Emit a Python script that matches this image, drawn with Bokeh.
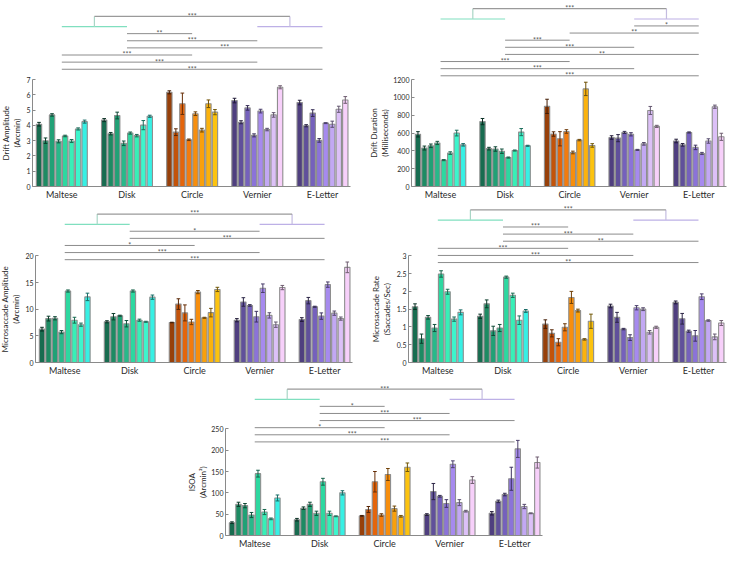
import math
from bokeh.plotting import figure
from bokeh.layouts import column, row, Spacer
from bokeh.models import FixedTicker, Range1d, ColumnDataSource
from bokeh.embed import file_html
from bokeh.resources import INLINE
from bokeh.core.properties import value

# ---------------- data ----------------
stimuli = ["Maltese", "Disk", "Circle", "Vernier", "E-Letter"]

drift_amp = [
    [4.08, 3.00, 4.69, 2.96, 3.31, 2.98, 3.77, 4.25],
    [4.35, 3.46, 4.65, 2.83, 3.50, 3.33, 4.02, 4.60],
    [6.17, 3.56, 5.42, 3.06, 4.77, 3.69, 5.42, 4.87],
    [5.63, 4.21, 5.15, 3.35, 4.94, 3.73, 4.69, 6.50],
    [5.50, 3.98, 4.81, 3.02, 4.15, 4.08, 5.06, 5.67]]
drift_amp_err = [
    [0.12, 0.18, 0.08, 0.10, 0.05, 0.10, 0.07, 0.10],
    [0.10, 0.08, 0.22, 0.15, 0.07, 0.08, 0.30, 0.07],
    [0.10, 0.22, 0.70, 0.05, 0.12, 0.12, 0.25, 0.17],
    [0.15, 0.10, 0.15, 0.10, 0.12, 0.08, 0.15, 0.10],
    [0.15, 0.07, 0.22, 0.12, 0.03, 0.20, 0.20, 0.22]]

drift_dur = [
    [586, 432, 457, 489, 296, 375, 600, 468],
    [729, 425, 421, 396, 325, 404, 611, 457],
    [900, 589, 536, 618, 382, 521, 1096, 461],
    [550, 543, 607, 586, 411, 479, 854, 675],
    [511, 468, 607, 439, 371, 511, 896, 558]]
drift_dur_err = [
    [30, 22, 20, 18, 6, 15, 32, 14],
    [35, 15, 25, 25, 6, 6, 40, 6],
    [80, 25, 80, 20, 15, 8, 75, 20],
    [20, 40, 12, 18, 6, 15, 45, 12],
    [20, 15, 6, 25, 12, 25, 18, 40]]

ms_amp = [
    [6.25, 8.23, 8.29, 5.70, 13.40, 7.93, 7.09, 12.30],
    [7.63, 8.59, 8.77, 7.27, 13.40, 7.93, 7.63, 12.25],
    [7.50, 10.95, 9.30, 7.60, 13.20, 8.38, 9.35, 13.70],
    [7.93, 11.35, 10.70, 8.59, 13.93, 8.83, 7.09, 14.05],
    [8.05, 11.60, 10.45, 8.70, 14.60, 9.25, 8.23, 17.84]]
ms_amp_err = [
    [0.35, 0.45, 0.30, 0.30, 0.20, 0.55, 0.30, 0.70],
    [0.20, 0.60, 0.10, 0.60, 0.20, 0.20, 0.10, 0.40],
    [0.05, 1.00, 1.50, 0.50, 0.30, 0.10, 0.80, 0.40],
    [0.30, 0.80, 0.15, 1.00, 0.80, 0.50, 0.50, 0.40],
    [0.35, 0.60, 0.10, 0.60, 0.50, 0.40, 0.30, 1.00]]

ms_rate = [
    [1.57, 0.67, 1.27, 0.97, 2.49, 1.99, 1.22, 1.41],
    [1.30, 1.65, 0.89, 0.97, 2.40, 1.89, 1.19, 1.45],
    [1.08, 0.82, 0.57, 0.99, 1.83, 1.46, 0.65, 1.16],
    [1.59, 1.27, 0.94, 0.70, 1.54, 1.50, 0.85, 0.99],
    [1.69, 1.23, 0.88, 0.75, 1.85, 1.18, 0.72, 1.11]]
ms_rate_err = [
    [0.08, 0.13, 0.05, 0.10, 0.09, 0.07, 0.06, 0.07],
    [0.06, 0.11, 0.13, 0.10, 0.03, 0.06, 0.12, 0.04],
    [0.12, 0.10, 0.10, 0.10, 0.17, 0.04, 0.02, 0.20],
    [0.05, 0.14, 0.02, 0.08, 0.06, 0.04, 0.05, 0.03],
    [0.04, 0.15, 0.03, 0.15, 0.08, 0.02, 0.08, 0.07]]

isoa = [
    [30, 73, 70, 48, 145, 55, 39, 88],
    [37, 64, 73, 52, 126, 52, 45, 100],
    [46, 61, 126, 48, 143, 63, 45, 160],
    [49, 103, 92, 75, 167, 77, 57, 130],
    [52, 80, 96, 133, 203, 68, 52, 171]]
isoa_err = [
    [2, 5, 5, 6, 8, 6, 2, 7],
    [3, 3, 5, 5, 8, 5, 1, 5],
    [1, 7, 24, 3, 14, 6, 2, 10],
    [2, 19, 2, 9, 8, 7, 2, 8],
    [4, 3, 3, 27, 20, 5, 1, 13]]

# significance comparisons (listed top to bottom): (stimulus a, stimulus b, stars)
top_star = "***"
comps_drift_amp = [(1, 2, "**"), (1, 3, "***"), (1, 4, "***"),
                   (0, 2, "***"), (0, 3, "***"), (0, 4, "***")]
comps_drift_dur = [(3, 4, "*"), (2, 4, "**"), (1, 2, "***"), (1, 3, "***"),
                   (1, 4, "**"), (0, 2, "***"), (0, 3, "***"), (0, 4, "***")]
comps_ms_amp = [(1, 3, "*"), (1, 4, "***"), (0, 2, "*"), (0, 3, "***"), (0, 4, "***")]
comps_ms_rate = [(1, 2, "***"), (1, 3, "***"), (1, 4, "**"),
                 (0, 2, "***"), (0, 3, "***"), (0, 4, "**")]
comps_isoa = [(1, 2, "*"), (1, 3, "***"), (1, 4, "***"),
              (0, 2, "*"), (0, 3, "***"), (0, 4, "***")]

# ---------------- styling ----------------
green = ["#186c50", "#1d8b63", "#21a176", "#28b98a", "#2dd8a0", "#38efb7", "#3df5cc", "#37f0e4"]
orange = ["#97400a", "#c3530a", "#e4650c", "#f27b0f", "#f78e0d", "#f9a00c", "#fbb20d", "#fcc30f"]
purple = ["#4f3f7f", "#60509b", "#7561bc", "#8b73d8", "#a68aee", "#c2a8f3", "#dcc0f7", "#f7d0fa"]
group_palettes = [green, green, orange, purple, purple]

FONT = "Lato"
TXT = "#2a2a2a"
AXC = "#8a8a8a"
A_PX = 108.0      # pixel height of the value axis
X0, X1 = -0.5, 48.3


def darken(hexc, f=0.5):
    r, g, b = int(hexc[1:3], 16), int(hexc[3:5], 16), int(hexc[5:7], 16)
    return "#%02x%02x%02x" % (int(r * f), int(g * f), int(b * f))


def make_panel(vals, errs, ymax, ystep, ylabel, comps, low_off,
               W, H, LW, label_x, L, R, B, tick_labels=None):
    frame_h = H - B
    u = ymax / A_PX  # data units per pixel
    yr = Range1d(0, frame_h * u)

    # ---- y label strip (its own small figure, frame aligned with the chart) ----
    lab = figure(width=LW, height=H, output_backend="svg", toolbar_location=None,
                 x_range=Range1d(0, LW), y_range=yr,
                 x_axis_location=None, y_axis_location=None,
                 min_border_left=0, min_border_right=0, min_border_top=0,
                 min_border_bottom=B)
    lab.outline_line_color = None
    lab.grid.visible = False
    lab.text(x=[label_x], y=[ymax / 2], text=[ylabel], angle=math.pi / 2,
             text_align="center", text_baseline="middle", text_line_height=1.15,
             text_font=value(FONT), text_font_size="8px", text_color=TXT)

    # ---- bar chart ----
    p = figure(width=W - LW, height=H, output_backend="svg", toolbar_location=None,
               x_range=Range1d(X0, X1), y_range=yr,
               min_border_left=L - LW, min_border_right=R, min_border_top=0,
               min_border_bottom=B)
    p.outline_line_color = None
    p.grid.visible = False

    xs, tops, fills, ecs, lows, ups = [], [], [], [], [], []
    for g in range(5):
        for i in range(8):
            x = g * 10 + i + 0.5
            xs.append(x)
            tops.append(vals[g][i])
            fills.append(group_palettes[g][i])
            ecs.append(darken(group_palettes[g][i], 0.45))
            lows.append(vals[g][i] - errs[g][i])
            ups.append(vals[g][i] + errs[g][i])
    src = ColumnDataSource(dict(x=xs, top=tops, fill=fills, ec=ecs, lo=lows, up=ups,
                                xl=[x - 0.28 for x in xs], xr=[x + 0.28 for x in xs]))
    p.vbar(x="x", top="top", width=0.82, bottom=0, fill_color="fill",
           line_color="#8e8e8e", line_width=1.1, source=src)
    p.segment(x0="x", y0="lo", x1="x", y1="up", line_color="ec", line_width=1, source=src)
    p.segment(x0="xl", y0="up", x1="xr", y1="up", line_color="ec", line_width=1, source=src)
    p.segment(x0="xl", y0="lo", x1="xr", y1="lo", line_color="ec", line_width=1, source=src)

    # brackets
    centers = [g * 10 + 4 for g in range(5)]
    n = len(comps)
    step = 7.2
    for k, (a, b, s) in enumerate(comps):
        ypx = A_PX + low_off + (n - 1 - k) * step
        y = ypx * u
        p.line([centers[a], centers[b]], [y, y], line_color="#8c8c8c", line_width=1)
        p.text(x=[(centers[a] + centers[b]) / 2], y=[y + 0.6 * u], text=[s],
               text_font=value(FONT), text_font_size="7px", text_color="#555555",
               text_align="center", text_baseline="alphabetic")
    gp = A_PX + low_off + (n - 1) * step + 7.0
    tp = gp + 10.4
    yg, yt = gp * u, tp * u
    mid_l = (centers[0] + centers[1]) / 2
    mid_r = (centers[3] + centers[4]) / 2
    p.line([centers[0], centers[1]], [yg, yg], line_color="#80dfbf", line_width=1.2)
    p.line([centers[3], centers[4]], [yg, yg], line_color="#bdb0e6", line_width=1.2)
    p.line([mid_l, mid_l], [yg, yt], line_color="#a9d6c6", line_width=1.2)
    p.line([mid_r, mid_r], [yg, yt], line_color="#c4bce0", line_width=1.2)
    p.line([mid_l, mid_r], [yt, yt], line_color="#9a9a9a", line_width=1.2)
    p.text(x=[(mid_l + mid_r) / 2], y=[yt + 0.6 * u], text=[top_star],
           text_font=value(FONT), text_font_size="7px", text_color="#555555",
           text_align="center", text_baseline="alphabetic")

    # axes
    ticks = []
    t = 0.0
    while t <= ymax + 1e-9:
        ticks.append(round(t, 6))
        t += ystep
    yax = p.yaxis[0]
    yax.ticker = FixedTicker(ticks=ticks)
    yax.bounds = (0, ymax)
    if tick_labels:
        yax.major_label_overrides = {tk: lab_ for tk, lab_ in zip(ticks, tick_labels)}
    yax.minor_tick_line_color = None
    yax.major_tick_in = 3
    yax.major_tick_out = 0
    yax.major_tick_line_color = AXC
    yax.axis_line_color = AXC
    yax.major_label_text_font = FONT
    yax.major_label_text_font_size = "7px"
    yax.major_label_text_color = TXT
    yax.major_label_standoff = 2

    xax = p.xaxis[0]
    xax.ticker = FixedTicker(ticks=centers)
    xax.major_label_overrides = {c: nm for c, nm in zip(centers, stimuli)}
    xax.minor_tick_line_color = None
    xax.major_tick_line_color = None
    xax.major_tick_in = 0
    xax.major_tick_out = 0
    xax.axis_line_color = AXC
    xax.major_label_text_font = FONT
    xax.major_label_text_font_size = "9px"
    xax.major_label_text_color = TXT
    xax.major_label_standoff = 2
    return row(lab, p)


p1 = make_panel(drift_amp, drift_amp_err, 7, 1, "Drift Amplitude\n(Arcmin)",
                comps_drift_amp, 10.5, W=366, H=202, LW=22, label_x=11, L=32, R=16, B=14)
p2 = make_panel(drift_dur, drift_dur_err, 1200, 200, "Drift Duration\n(Milliseconds)",
                comps_drift_dur, 3.9, W=366, H=202, LW=24, label_x=13, L=42, R=6, B=14)
p3 = make_panel(ms_amp, ms_amp_err, 20, 5, "Microsaccade Amplitude\n(Arcmin)",
                comps_ms_amp, -3.9, W=366, H=176, LW=22, label_x=10, L=34, R=14, B=14)
p4 = make_panel(ms_rate, ms_rate_err, 3, 0.5, "Microsaccade Rate\n(Saccades/Sec)",
                comps_ms_rate, -6.8, W=366, H=176, LW=26, label_x=15, L=42, R=6, B=14,
                tick_labels=["0", "0.5", "1", "1.5", "2", "2.5", "3"])
p5 = make_panel(isoa, isoa_err, 250, 50, "ISOA\n(Arcmin\u00b2)",
                comps_isoa, -13.2, W=366, H=173, LW=24, label_x=13, L=40, R=8, B=14)

layout = column(row(p1, p2), row(p3, p4), row(Spacer(width=184, height=173), p5))

open("out.html", "w").write(file_html(layout, INLINE))
